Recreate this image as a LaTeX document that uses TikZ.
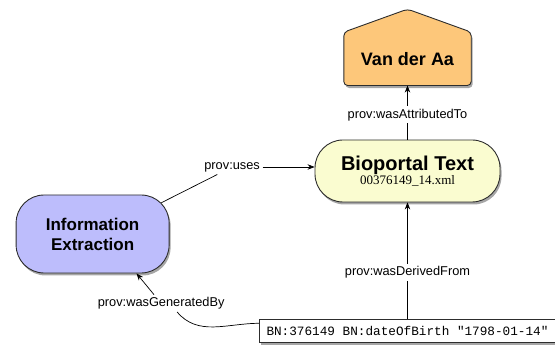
\documentclass[tikz,border=0pt]{standalone}
\usepackage{fontspec}
\setmainfont{Liberation Sans}
\newfontfamily\filefont{Liberation Serif}
\newfontfamily\literalfont{Liberation Mono}
\usepackage{tikz}
\usetikzlibrary{shapes.geometric, arrows.meta, positioning, backgrounds, calc, shadows}
\definecolor{darkgray}{RGB}{45, 45, 45}
\definecolor{agentcolor}{RGB}{253, 199, 122}
\definecolor{entitycolor}{RGB}{250, 252, 208}
\definecolor{activitycolor}{RGB}{189, 189, 252}

\begin{document}
\begin{tikzpicture}[
    softshadow/.style={drop shadow={shadow xshift=1.5pt, shadow yshift=-2.5pt, opacity=0.35, fill=black}},
    entity/.style={draw=darkgray, line width=0.9pt, fill=entitycolor, rounded corners=28pt, minimum width=185pt, minimum height=62pt, align=center, softshadow, font=\fontsize{13}{15}\selectfont},
    activity/.style={draw=darkgray, line width=0.9pt, fill=activitycolor, rounded corners=28pt, minimum width=153pt, minimum height=78pt, align=center, softshadow, font=\fontsize{17}{20}\selectfont\bfseries},
    agent/.style={minimum width=127pt, minimum height=53pt, font=\fontsize{18}{20}\selectfont\bfseries},
    housebox/.style={draw=darkgray, line width=0.9pt, fill=agentcolor, rounded corners=4pt, softshadow},
    literal/.style={draw=darkgray, line width=0.7pt, fill=white, inner xsep=7pt, minimum height=23pt, font=\literalfont\fontsize{12.7}{14}\selectfont, softshadow},
    rel/.style={fill=white, inner sep=2.5pt, font=\fontsize{12.8}{14}\selectfont},
    line/.style={black, line width=0.7pt},
    arrow/.style={-{Stealth[length=7pt, width=5.5pt]}, line width=0.7pt, black}
]
    \useasboundingbox (0,0) rectangle (555pt,345pt);

    % Nodes
    \node[entity] (bio) at (407.5pt,174pt) {{\fontsize{20}{22}\selectfont\bfseries Bioportal Text}\\[-1pt]{\filefont 00376149\_14.xml}};
    \node[agent, above=54pt of bio] (vda) {Van der Aa};
    \node[activity, left=145pt of bio, yshift=-63pt] (infoext) {Information\\Extraction};
    \node[literal, below=117pt of bio] (bn) {BN:376149 BN:dateOfBirth "1798-01-14"};

    % House shape behind the agent
    \begin{scope}[on background layer]
        \draw[housebox] (vda.north west) -- ($(vda.north)+(0,23pt)$) -- (vda.north east) -- (vda.south east) -- (vda.south west) -- cycle;
    \end{scope}

    % Labels
    \node[rel, left=52pt of bio, yshift=4pt] (uses) {prov:uses};
    \node[rel, left=32pt of bn, yshift=28pt] (genby) {prov:wasGeneratedBy};

    % Arrows
    \draw[arrow] (bio) -- (vda) node[rel, pos=.46] {prov:wasAttributedTo};
    \draw[arrow] (bn) -- (bio) node[rel, pos=.40] {prov:wasDerivedFrom};
    \draw[line] ($(infoext.north east)+(-8.2pt,-8.2pt)$) -- (uses);
    \draw[arrow] (uses.east) -- (uses -| bio.west);
    \draw[arrow] (genby) -- ($(infoext.south east)+(-33pt,0)$);
    \draw[line] ($(genby.south)+(16pt,0)$) to[out=-50, in=180] ($(bn.west)+(0,8pt)$);
\end{tikzpicture}
\end{document}
